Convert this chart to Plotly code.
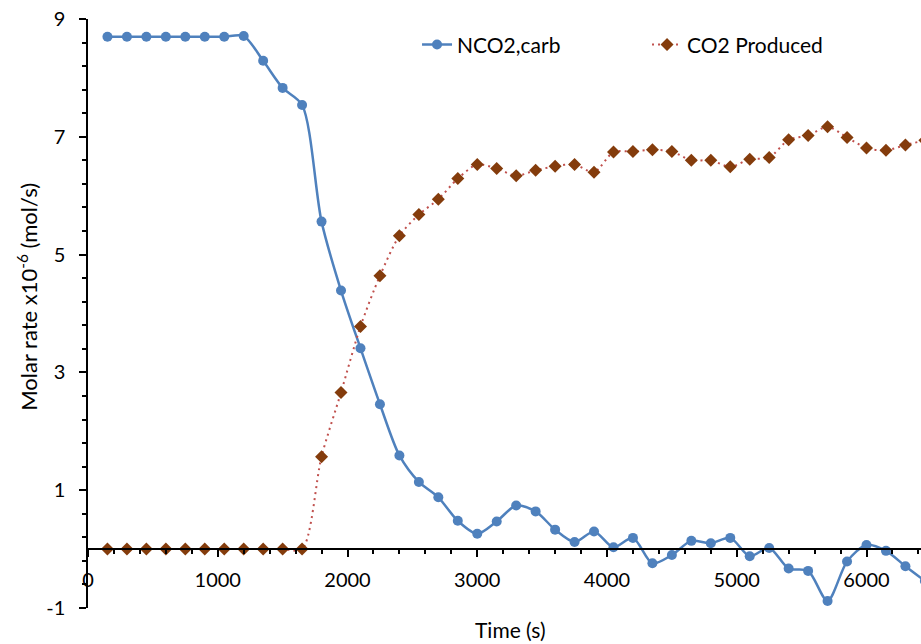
import plotly.graph_objects as go

# Sampling times (s)
time_s = [150, 300, 450, 600, 750, 900, 1050, 1200, 1350, 1500, 1650, 1800,
          1950, 2100, 2250, 2400, 2550, 2700, 2850, 3000, 3150, 3300, 3450,
          3600, 3750, 3900, 4050, 4200, 4350, 4500, 4650, 4800, 4950, 5100,
          5250, 5400, 5550, 5700, 5850, 6000, 6150, 6300, 6450]

# Molar rates x1e-6 mol/s
nco2_carb = [8.70, 8.70, 8.70, 8.70, 8.70, 8.70, 8.70, 8.71, 8.29, 7.83, 7.54,
             5.56, 4.39, 3.41, 2.46, 1.59, 1.14, 0.88, 0.48, 0.26, 0.47, 0.74,
             0.64, 0.33, 0.12, 0.30, 0.03, 0.19, -0.24, -0.10, 0.14, 0.10,
             0.19, -0.12, 0.02, -0.33, -0.37, -0.88, -0.21, 0.07, -0.03,
             -0.29, -0.54]

co2_produced = [0.0, 0.0, 0.0, 0.0, 0.0, 0.0, 0.0, 0.0, 0.0, 0.0, 0.0,
                1.57, 2.66, 3.78, 4.64, 5.32, 5.68, 5.94, 6.29, 6.53, 6.46,
                6.34, 6.43, 6.50, 6.53, 6.40, 6.74, 6.75, 6.78, 6.75, 6.60,
                6.60, 6.49, 6.62, 6.65, 6.95, 7.02, 7.17, 6.99, 6.81, 6.77,
                6.86, 6.94]

y_ticks = [-1, 1, 3, 5, 7, 9]
y_tick_labels = ["-1", "1", "3", "5", "7", "9"]
x_ticks = [0, 1000, 2000, 3000, 4000, 5000, 6000]

FONT = "Lato"
BLUE = "#4F81BD"
RED = "#C0504D"
BROWN = "#843C0C"

fig = go.Figure()

fig.add_trace(go.Scatter(
    x=time_s, y=nco2_carb, name="NCO2,carb",
    mode="lines+markers",
    line=dict(color=BLUE, width=2.5, shape="spline", smoothing=0.8),
    marker=dict(symbol="circle", size=10, color=BLUE),
))

fig.add_trace(go.Scatter(
    x=time_s, y=co2_produced, name="CO2 Produced",
    mode="lines+markers",
    line=dict(color=RED, width=2, dash="2px,4px", shape="spline", smoothing=0.8),
    marker=dict(symbol="diamond", size=10, color=BROWN),
))

fig.update_layout(
    width=921, height=644,
    margin=dict(l=88, r=0, t=19, b=36, autoexpand=False),
    paper_bgcolor="white", plot_bgcolor="white",
    font=dict(family=FONT, size=20, color="black"),
    showlegend=True,
    legend=dict(
        orientation="h", x=0.395, y=0.956, xanchor="left", yanchor="middle",
        bgcolor="rgba(0,0,0,0)", font=dict(family=FONT, size=21),
        entrywidth=185, entrywidthmode="pixels",
    ),
    xaxis=dict(
        range=[0, 6420], anchor="free", position=0.1,
        tickvals=x_ticks, ticks="outside", ticklen=7, tickwidth=1.5,
        tickcolor="black", showline=True, linecolor="black", linewidth=2,
        showgrid=False, zeroline=False, ticklabelstandoff=6,
        tickfont=dict(family=FONT, size=20),
        minor=dict(dtick=200, tick0=0, ticks="outside", ticklen=4,
                   tickwidth=1.5, tickcolor="black", showgrid=False),
    ),
    yaxis=dict(
        range=[-1, 9], tickvals=y_ticks, ticktext=y_tick_labels,
        ticks="outside", ticklen=7,
        tickwidth=1.5, tickcolor="black", showline=True, linecolor="black",
        linewidth=1.5, showgrid=False, zeroline=False, ticklabelstandoff=10,
        tickfont=dict(family=FONT, size=20),
        minor=dict(dtick=0.4, tick0=-1, ticks="outside", ticklen=4,
                   tickwidth=1.5, tickcolor="black", showgrid=False),
    ),
)

# Axis titles
fig.add_annotation(
    text="Time (s)", xref="paper", yref="paper", x=0.507, y=-0.037,
    xanchor="center", yanchor="middle", showarrow=False,
    font=dict(family=FONT, size=21, color="black"),
)
fig.add_annotation(
    text="Molar rate x10<sup>-6</sup> (mol/s)", xref="paper", yref="paper",
    x=-0.0735, y=0.528, xanchor="center", yanchor="middle", showarrow=False,
    textangle=-90, font=dict(family=FONT, size=22, color="black"),
)

fig.write_html("out.html")
